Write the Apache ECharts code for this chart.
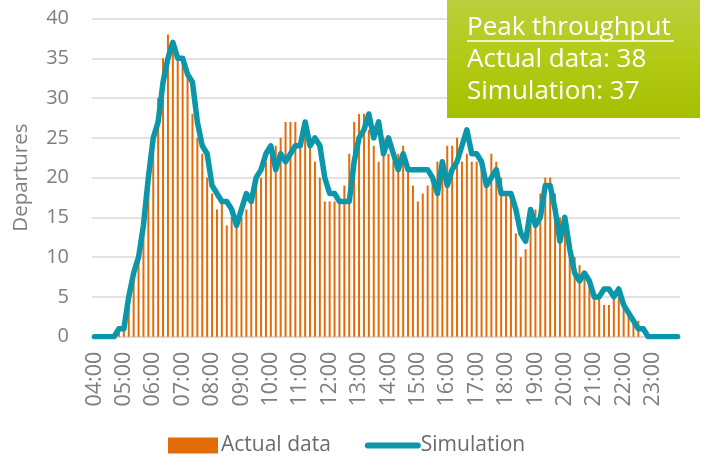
<!DOCTYPE html>
<html>
<head>
<meta charset="utf-8">
<script src="https://cdn.jsdelivr.net/npm/echarts@6/dist/echarts.min.js"></script>
<style>
html,body{margin:0;padding:0;background:#fff;}
#c{width:707px;height:459px;}
</style>
</head>
<body>
<div id="c"></div>
<script>
// 10-minute slots from 04:00 to 23:50
const times = [];
for (let h = 4; h < 24; h++) {
  for (let m = 0; m < 60; m += 10) {
    times.push((h < 10 ? '0' + h : '' + h) + ':' + (m === 0 ? '00' : '' + m));
  }
}

const actualData = [
  0,0,0,0,0,
  1,1,4,7,10,13,19,25,30,35,
  38,36,35,35,33,28,25,23,20,18,
  16,17,14,15,14,15,16,17,20,20,
  22,23,24,25,27,27,27,24,26,24,
  22,20,17,17,17,17,19,23,27,28,
  28,26,24,22,25,23,22,23,24,21,
  19,17,18,19,20,22,22,24,24,25,
  22,23,22,22,21,20,23,22,20,18,
  18,13,10,11,15,16,18,20,20,18,
  15,15,12,10,9,8,7,5,5,4,
  4,5,5,4,3,2,2,
  0,0,0,0,0,0,0,0
];

const simulation = [
  0,0,0,0,0,
  1,1,5,8,10,14,20,25,27,32,
  35,37,35,35,33,32,27,24,23,19,
  18,17,17,16,14,16,18,17,20,21,
  23,24,21,23,22,23,24,24,27,24,
  25,24,20,18,18,17,17,17,22,25,
  26,28,25,27,23,25,23,21,23,21,
  21,21,21,21,20,18,22,19,21,22,
  24,26,23,23,22,19,20,21,18,18,
  18,16,13,12,16,14,15,19,19,16,
  12,15,11,8,7,8,7,5,5,6,
  6,5,6,4,3,2,1,1,
  0,0,0,0,0,0,0
];

const yTicks = { min: 0, max: 40, step: 5 };
const boxLines = ['Peak throughput', 'Actual data: 38', 'Simulation: 37'];

const chart = echarts.init(document.getElementById('c'), null, { renderer: 'canvas' });
const FONT = '"Open Sans", "Noto Sans", sans-serif';
const TEAL = '#0b96a9';
chart.setOption({
  animation: false,
  backgroundColor: '#ffffff',
  grid: { left: 92, right: 27, top: 18.5, bottom: 122.3, containLabel: false },
  legend: {
    top: 430,
    left: 163,
    itemWidth: 50,
    itemHeight: 16,
    itemGap: 34,
    textStyle: { fontFamily: FONT, fontSize: 21, color: '#6b6b6b', padding: [0, 0, 0, -2] },
    data: [
      { name: 'Actual data', icon: 'rect' },
      { name: 'Simulation', itemStyle: { opacity: 0 }, lineStyle: { width: 6, cap: 'round', color: TEAL } }
    ]
  },
  xAxis: {
    type: 'category',
    data: times,
    boundaryGap: true,
    axisLine: { lineStyle: { color: '#d9d9d9', width: 1.5 } },
    axisTick: { show: false },
    axisLabel: {
      interval: 5,
      rotate: 90,
      fontFamily: FONT,
      fontSize: 21.5,
      color: '#7f7f7f',
      margin: 15
    },
    splitLine: { show: false }
  },
  yAxis: {
    type: 'value',
    min: yTicks.min,
    max: yTicks.max,
    interval: yTicks.step,
    name: 'Departures',
    nameLocation: 'middle',
    nameGap: 60,
    nameRotate: 90,
    nameTextStyle: { fontFamily: FONT, fontSize: 20.5, color: '#7f7f7f' },
    axisLine: { show: false },
    axisTick: { show: false },
    axisLabel: { fontFamily: FONT, fontSize: 20, color: '#7f7f7f', margin: 23 },
    splitLine: { lineStyle: { color: '#d9d9d9', width: 1.5 } }
  },
  series: [
    {
      name: 'Actual data',
      type: 'bar',
      data: actualData,
      barWidth: 2,
      itemStyle: { color: '#e36c09' },
      z: 2
    },
    {
      name: 'Simulation',
      type: 'line',
      data: simulation,
      symbol: 'none',
      showSymbol: false,
      lineStyle: { color: TEAL, width: 5.5, join: 'round', cap: 'round' },
      itemStyle: { color: TEAL },
      z: 3
    }
  ],
  graphic: [
    {
      type: 'rect',
      shape: { x: 447, y: -2, width: 253, height: 120 },
      style: {
        fill: new echarts.graphic.LinearGradient(0, 0, 0, 1, [
          { offset: 0, color: '#bccf3f' },
          { offset: 0.5, color: '#b3ca16' },
          { offset: 1, color: '#a5bf00' }
        ])
      },
      z: 10
    },
    {
      type: 'text',
      x: 467, y: 28,
      style: { text: boxLines[0], fill: '#ffffff', font: '26px ' + FONT, textVerticalAlign: 'middle' },
      z: 11
    },
    {
      type: 'line',
      shape: { x1: 467, y1: 41, x2: 674, y2: 41 },
      style: { stroke: '#ffffff', lineWidth: 1.5 },
      z: 11
    },
    {
      type: 'text',
      x: 467, y: 60,
      style: { text: boxLines[1], fill: '#ffffff', font: '26px ' + FONT, textVerticalAlign: 'middle' },
      z: 11
    },
    {
      type: 'text',
      x: 467, y: 92,
      style: { text: boxLines[2], fill: '#ffffff', font: '26px ' + FONT, textVerticalAlign: 'middle' },
      z: 11
    }
  ]
});
</script>
</body>
</html>
